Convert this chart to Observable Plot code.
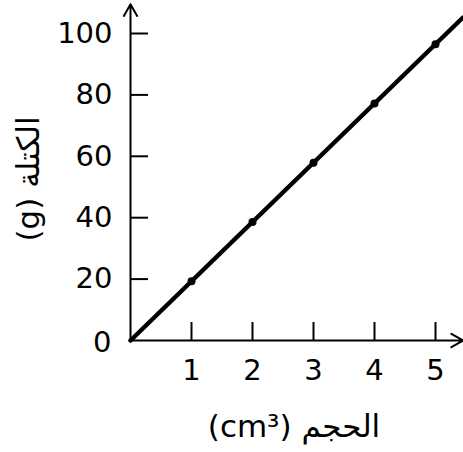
<!DOCTYPE html>
<html>
<head>
<meta charset="utf-8">
<script src="https://cdn.jsdelivr.net/npm/d3@7"></script>
<script src="https://cdn.jsdelivr.net/npm/@observablehq/plot@0.6"></script>
<style>
  html, body { margin: 0; padding: 0; background: #fff; }
  #chart svg { display: block; }
</style>
</head>
<body>
<div id="chart"></div>
<script>
// Data
const volume = [1, 2, 3, 4, 5];              // cm³
const mass = [19.3, 38.6, 57.9, 77.2, 96.5]; // g
const lineVolume = [0, 5.45];
const lineMass = [0, 105.2];
const xTicks = [1, 2, 3, 4, 5];
const yTicks = [0, 20, 40, 60, 80, 100];
const xLabel = "(cm³) الحجم";
const yLabel = "(g) الكتلة";

const points = volume.map((v, i) => ({volume: v, mass: mass[i]}));
const fitLine = lineVolume.map((v, i) => ({volume: v, mass: lineMass[i]}));

const font = "'DejaVu Sans', sans-serif";

const chart = Plot.plot({
  width: 463,
  height: 452,
  marginLeft: 130,
  marginRight: 28,
  marginTop: 33,
  marginBottom: 112,
  style: {fontFamily: font, fontSize: "29px", color: "#000", background: "#fff"},
  x: {domain: [0, 5]},
  y: {domain: [0, 100]},
  marks: [
    Plot.axisX(xTicks, {tickSize: -18, tickPadding: 37, stroke: "#000", strokeWidth: 2, fontSize: 29, label: null}),
    Plot.axisY(yTicks.filter(d => d > 0), {tickSize: -18, tickPadding: 36, stroke: "#000", strokeWidth: 2, fontSize: 29, label: null}),
    Plot.text([yTicks[0]], {x: 0, y: 0, text: d => String(d), textAnchor: "end", dx: -19, dy: 2, fontSize: 29}),
    Plot.text([xLabel], {frameAnchor: "bottom", lineAnchor: "bottom", textAnchor: "middle", dx: 11, dy: 96, fontSize: 31, fill: "#000"}),
    Plot.text([yLabel], {frameAnchor: "left", lineAnchor: "middle", textAnchor: "middle", rotate: -90, dx: -101, dy: -8, fontSize: 31, fill: "#000"}),
    Plot.arrow([{x1: 0, y1: 0, x2: 5.45, y2: 0}, {x1: 0, y1: 0, x2: 0, y2: 109.5}],
      {x1: "x1", y1: "y1", x2: "x2", y2: "y2", stroke: "#000", strokeWidth: 2, headLength: 10, bend: 0}),
    Plot.line(fitLine, {x: "volume", y: "mass", stroke: "#000", strokeWidth: 4.5}),
    Plot.dot(points, {x: "volume", y: "mass", r: 4, fill: "#000"})
  ]
});
document.getElementById("chart").append(chart);
</script>
</body>
</html>
